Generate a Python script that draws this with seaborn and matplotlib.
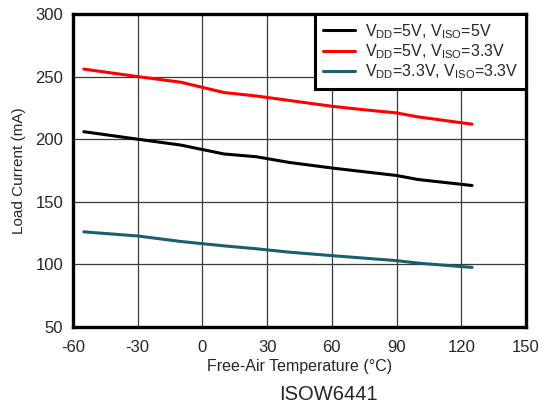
import numpy as np
import pandas as pd
import matplotlib
matplotlib.use("Agg")
import matplotlib.pyplot as plt
import seaborn as sns

temps = [-55, -30, -10, 10, 25, 40, 60, 75, 90, 100, 125]
s_5_5 = [206, 200, 195.3, 188.2, 186, 181.5, 177, 174, 171, 167.8, 163]
s_5_33 = [256, 250, 245.5, 237.3, 234.5, 231, 226.3, 223.5, 221, 217.8, 212]
s_33_33 = [126, 122.7, 118.3, 114.8, 112.5, 109.8, 107, 105, 103, 101, 97.6]
labels = [r'V$_{\rm DD}$=5V, V$_{\rm ISO}$=5V',
          r'V$_{\rm DD}$=5V, V$_{\rm ISO}$=3.3V',
          r'V$_{\rm DD}$=3.3V, V$_{\rm ISO}$=3.3V']
colors = ['#000000', '#ff0000', '#1a5e72']
xticks = [-60, -30, 0, 30, 60, 90, 120, 150]
yticks = [50, 100, 150, 200, 250, 300]

sns.set_style("white")
plt.rcParams['font.family'] = ['Liberation Sans', 'DejaVu Sans']
plt.rcParams['axes.unicode_minus'] = False
plt.rcParams['mathtext.fontset'] = 'custom'
plt.rcParams['mathtext.rm'] = 'Liberation Sans'
plt.rcParams['mathtext.it'] = 'Liberation Sans:italic'
plt.rcParams['mathtext.bf'] = 'Liberation Sans:bold'

rows = []
for lab, vals in zip(labels, [s_5_5, s_5_33, s_33_33]):
    for t, v in zip(temps, vals):
        rows.append({'T': t, 'I': v, 'series': lab})
df = pd.DataFrame(rows)

fig = plt.figure(figsize=(5.43, 4.08), dpi=100)
ax = fig.add_axes([73/543, 1-327/408, (526-73)/543, (327-14)/408])
sns.lineplot(data=df, x='T', y='I', hue='series', hue_order=labels,
             palette=colors, linewidth=2.2, ax=ax, zorder=3)

ax.set_xlim(-60, 150)
ax.set_ylim(50, 300)
ax.set_xticks(xticks)
ax.set_yticks(yticks)
ax.grid(True, color='#3a3a3a', linewidth=0.9)
ax.set_axisbelow(True)
for sp in ax.spines.values():
    sp.set_visible(True)
    sp.set_linewidth(2.4)
    sp.set_color('black')
ax.tick_params(length=0, labelsize=12, pad=7)
ax.tick_params(axis='x', pad=9)
ax.set_xlabel('Free-Air Temperature (°C)', fontsize=11.5, labelpad=3)
ax.set_ylabel('Load Current (mA)', fontsize=11, labelpad=7)

leg = ax.legend(loc='upper right', bbox_to_anchor=(1.0, 1.0), borderaxespad=0,
                frameon=True, fancybox=False, fontsize=11.5, handlelength=2.0,
                handletextpad=0.6, labelspacing=0.1, borderpad=0.5)
leg.get_frame().set_edgecolor('black')
leg.get_frame().set_linewidth(2.2)
leg.get_frame().set_alpha(1)
for lh in leg.get_lines():
    lh.set_linewidth(2.2)

fig.text(328/543, 1-395/408, 'ISOW6441', ha='center', va='center', fontsize=14.5)

fig.savefig('out.png', dpi=100)
